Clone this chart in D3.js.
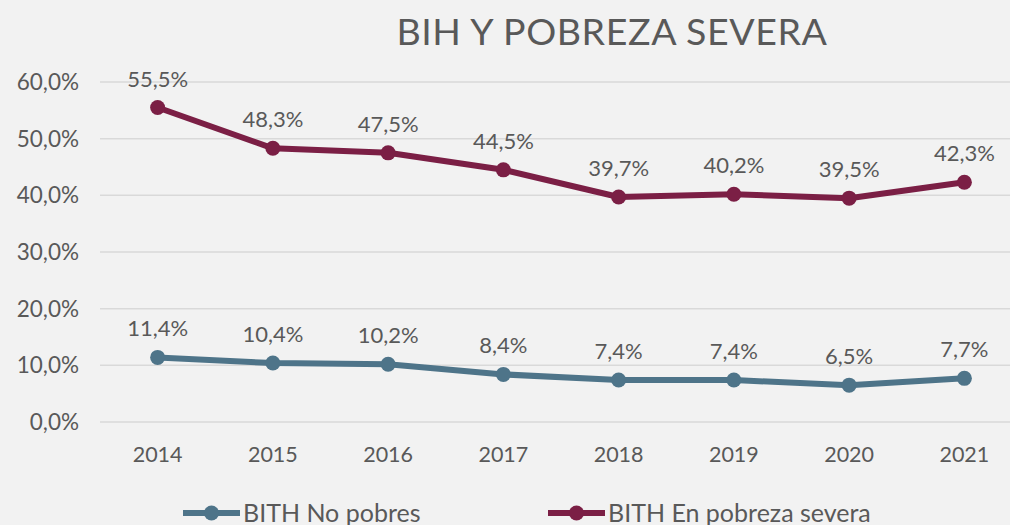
<!DOCTYPE html>
<html>
<head>
<meta charset="utf-8">
<script src="https://cdn.jsdelivr.net/npm/d3@7"></script>
<style>
  body { margin: 0; background: #f2f2f2; overflow: hidden; }
  text { font-family: "Lato", "Open Sans", sans-serif; fill: #595959; }
</style>
</head>
<body>
<div id="chart"></div>
<script>
// data
const years = ["2014", "2015", "2016", "2017", "2018", "2019", "2020", "2021"];
const noPobres = [11.4, 10.4, 10.2, 8.4, 7.4, 7.4, 6.5, 7.7];
const pobrezaSevera = [55.5, 48.3, 47.5, 44.5, 39.7, 40.2, 39.5, 42.3];
const yTicks = [0, 10, 20, 30, 40, 50, 60];

const series = [
  {name: "BITH No pobres", values: noPobres, color: "#4e7489"},
  {name: "BITH En pobreza severa", values: pobrezaSevera, color: "#7b1f45"}
];

const W = 1010, H = 525;
const margin = {top: 82, right: -12, bottom: 103, left: 100};

const svg = d3.select("#chart").append("svg")
    .attr("width", W)
    .attr("height", H);

svg.append("rect").attr("width", W).attr("height", H).attr("fill", "#f2f2f2");

const x = d3.scaleBand()
    .domain(years)
    .range([margin.left, W - margin.right]);

const y = d3.scaleLinear()
    .domain([0, 60])
    .range([H - margin.bottom, margin.top]);

const fmt = v => d3.format(".1f")(v).replace(".", ",") + "%";

// title
svg.append("text")
    .attr("x", 612)
    .attr("y", 45)
    .attr("text-anchor", "middle")
    .style("font-size", "37.5px")
    .style("letter-spacing", "0.6px")
    .text("BIH Y POBREZA SEVERA");

// gridlines
svg.append("g")
  .selectAll("line")
  .data(yTicks)
  .join("line")
    .attr("x1", margin.left)
    .attr("x2", W)
    .attr("y1", d => y(d))
    .attr("y2", d => y(d))
    .attr("stroke", "#d9d9d9")
    .attr("stroke-width", 1.5);

// y axis labels
svg.append("g")
  .selectAll("text")
  .data(yTicks)
  .join("text")
    .attr("x", 79)
    .attr("y", d => y(d))
    .attr("dy", "0.35em")
    .attr("text-anchor", "end")
    .style("font-size", "22.5px")
    .text(d => fmt(d));

// x axis labels
svg.append("g")
  .selectAll("text")
  .data(years)
  .join("text")
    .attr("x", d => x(d) + x.bandwidth() / 2)
    .attr("y", 462)
    .attr("text-anchor", "middle")
    .style("font-size", "21.5px")
    .text(d => d);

const line = d3.line()
    .x((d, i) => x(years[i]) + x.bandwidth() / 2)
    .y(d => y(d));

series.forEach(s => {
  const g = svg.append("g");
  g.append("path")
      .attr("d", line(s.values))
      .attr("fill", "none")
      .attr("stroke", s.color)
      .attr("stroke-width", 6)
      .attr("stroke-linejoin", "round");
  g.selectAll("circle")
    .data(s.values)
    .join("circle")
      .attr("cx", (d, i) => x(years[i]) + x.bandwidth() / 2)
      .attr("cy", d => y(d))
      .attr("r", 7.5)
      .attr("fill", s.color);
  g.selectAll("text")
    .data(s.values)
    .join("text")
      .attr("x", (d, i) => x(years[i]) + x.bandwidth() / 2)
      .attr("y", d => y(d) - 21)
      .attr("text-anchor", "middle")
      .style("font-size", "22px")
      .text(d => fmt(d));
});

// legend
const legendX = [183, 548];
series.forEach((s, i) => {
  const lg = svg.append("g").attr("transform", `translate(${legendX[i]},513)`);
  lg.append("line")
      .attr("x1", 0).attr("x2", 57)
      .attr("stroke", s.color)
      .attr("stroke-width", 6);
  lg.append("circle")
      .attr("cx", 28.5).attr("r", 7.5)
      .attr("fill", s.color);
  lg.append("text")
      .attr("x", 60)
      .attr("dy", "0.35em")
      .style("font-size", "25px")
      .text(s.name);
});
</script>
</body>
</html>
